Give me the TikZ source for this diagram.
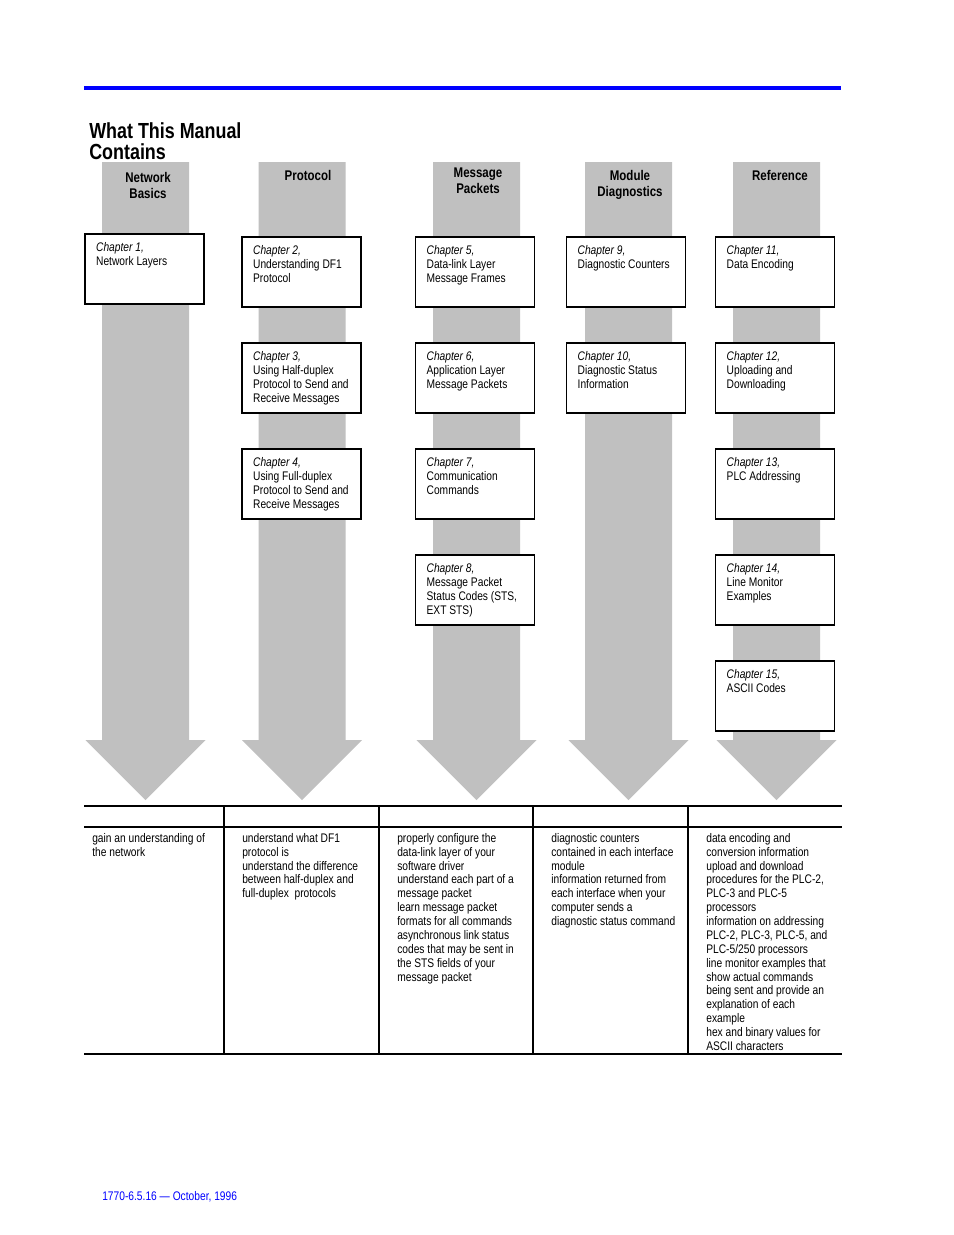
\documentclass[tikz,border=0pt]{standalone}
\usepackage{fontspec}
\setmainfont[FakeStretch=0.82]{Liberation Sans}
\definecolor{bargray}{RGB}{192,192,192}
\definecolor{pageblue}{RGB}{0,0,255}
\usetikzlibrary{positioning}

\begin{document}
\begin{tikzpicture}[
    x=0.6415pt, y=-0.6415pt,
    chapter/.style={draw, line width=1.2pt, fill=white, anchor=north,
      minimum width=76.3pt, minimum height=45pt, text width=62pt,
      inner xsep=7.15pt, inner ysep=5pt, text height=6pt, text depth=29pt,
      align=flush left, font=\fontsize{8}{9}\selectfont},
    column/.style={anchor=north, inner sep=0pt, align=flush center,
      font=\fontsize{9}{10}\selectfont\bfseries},
    outcome/.style={anchor=north west, inner sep=0pt, text width=90pt,
      align=flush left, font=\fontsize{8}{8.9}\selectfont},
    rule/.style={line width=0.7pt},
    node distance=21.8pt,
  ]
    \fill[white] (0,0) rectangle (954,1235);
    \draw[pageblue, line width=2pt] (84,88) -- (841,88);
    \node[anchor=north west, inner sep=0pt, align=flush left,
      font=\fontsize{14}{14}\selectfont\bfseries] (title) at (89,122) {What This Manual\\Contains};

    % gray arrows
    \foreach \cx in {145.5,302,476.5,628.5,776.5}
      \fill[bargray] ({\cx-43.5},162) -- ({\cx+43.5},162) -- ({\cx+43.5},740) -- ({\cx+60},740)
        -- (\cx,800) -- ({\cx-60},740) -- ({\cx-43.5},740) -- cycle;

    \node[column] (hdnet) at (148,172) {Network\\Basics};
    \node[column] (hdproto) at (308,170) {Protocol};
    \node[column] (hdmsg) at (478,168) {Message\\Packets};
    \node[column] (hddiag) at (630,170) {Module\\Diagnostics};
    \node[column] (hdref) at (780,170) {Reference};

    \node[chapter] (ch1) at (144.5,233) {\textit{Chapter 1,}\\Network Layers};

    \node[chapter] (ch2) at (301.5,236) {\textit{Chapter 2,}\\Understanding DF1\\Protocol};
    \node[chapter, below=of ch2] (ch3) {\textit{Chapter 3,}\\Using Half-duplex\\Protocol to Send and\\Receive Messages};
    \node[chapter, below=of ch3] (ch4) {\textit{Chapter 4,}\\Using Full-duplex\\Protocol to Send and\\Receive Messages};

    \node[chapter] (ch5) at (475,236) {\textit{Chapter 5,}\\Data-link Layer\\Message Frames};
    \node[chapter, below=of ch5] (ch6) {\textit{Chapter 6,}\\Application Layer\\Message Packets};
    \node[chapter, below=of ch6] (ch7) {\textit{Chapter 7,}\\Communication\\Commands};
    \node[chapter, below=of ch7] (ch8) {\textit{Chapter 8,}\\Message Packet\\Status Codes (STS,\\EXT STS)};

    \node[chapter] (ch9) at (626,236) {\textit{Chapter 9,}\\Diagnostic Counters};
    \node[chapter, below=of ch9] (ch10) {\textit{Chapter 10,}\\Diagnostic Status\\Information};

    \node[chapter] (ch11) at (775,236) {\textit{Chapter 11,}\\Data Encoding};
    \node[chapter, below=of ch11] (ch12) {\textit{Chapter 12,}\\Uploading and\\Downloading};
    \node[chapter, below=of ch12] (ch13) {\textit{Chapter 13,}\\PLC Addressing};
    \node[chapter, below=of ch13] (ch14) {\textit{Chapter 14,}\\Line Monitor\\Examples};
    \node[chapter, below=of ch14] (ch15) {\textit{Chapter 15,}\\ASCII Codes};

    % table
    \draw[rule] (84,806) -- (842,806);
    \draw[rule] (84,827) -- (842,827);
    \draw[rule] (84,1054) -- (842,1054);
    \foreach \x in {224,379,533,688}
      \draw[rule] (\x,806) -- (\x,1054);

    \node[outcome] (out1) at (92,833) {gain an understanding of\\the network};
    \node[outcome] (out2) at (242,833) {understand what DF1\\protocol is\\understand the difference\\between half-duplex and\\full-duplex~ protocols};
    \node[outcome] (out3) at (397,833) {properly configure the\\data-link layer of your\\software driver\\understand each part of a\\message packet\\learn message packet\\formats for all commands\\asynchronous link status\\codes that may be sent in\\the STS fields of your\\message packet};
    \node[outcome] (out4) at (551,833) {diagnostic counters\\contained in each interface\\module\\information returned from\\each interface when your\\computer sends a\\diagnostic status command};
    \node[outcome] (out5) at (706,833) {data encoding and\\conversion information\\upload and download\\procedures for the PLC-2,\\PLC-3 and PLC-5\\processors\\information on addressing\\PLC-2, PLC-3, PLC-5, and\\PLC-5/250 processors\\line monitor examples that\\show actual commands\\being sent and provide an\\explanation of each\\example\\hex and binary values for\\ASCII characters};

    \node[anchor=base west, inner sep=0pt, text=pageblue,
      font=\fontsize{8}{9}\selectfont] (foot) at (102,1200) {1770-6.5.16 \textemdash{} October, 1996};
  \end{tikzpicture}
\end{document}
